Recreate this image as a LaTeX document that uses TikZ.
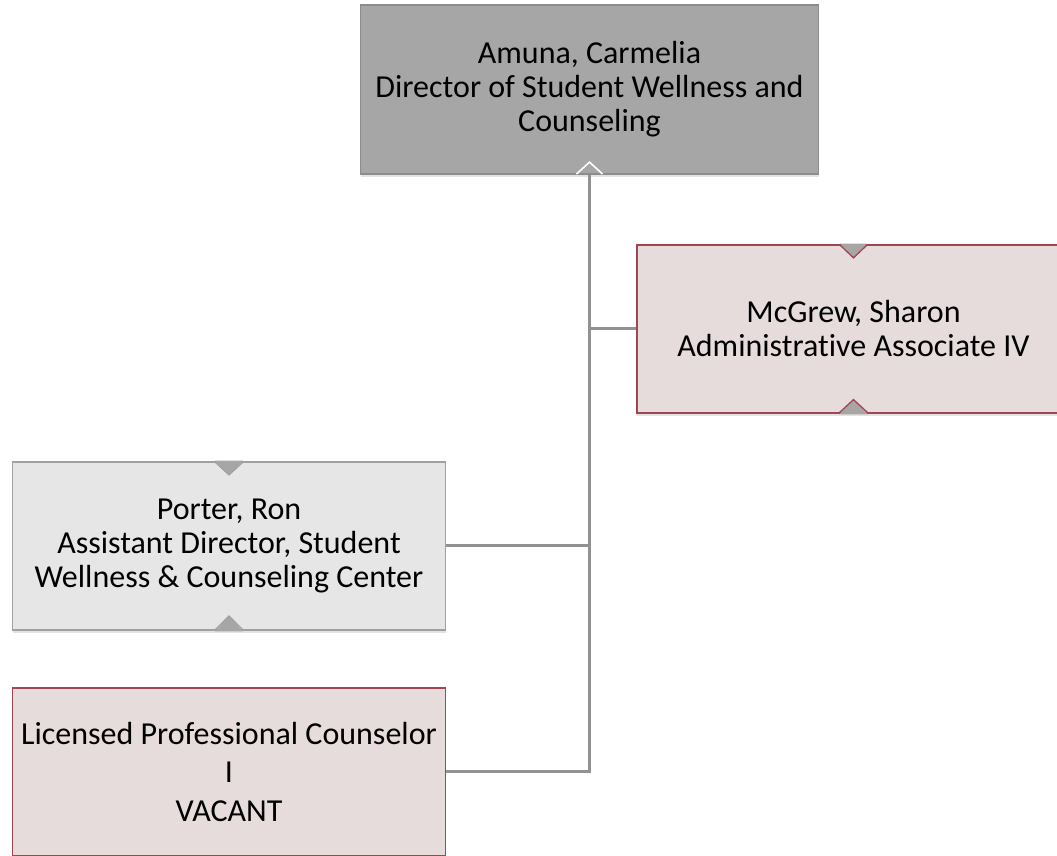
\documentclass[tikz,border=0pt]{standalone}
\usepackage{fontspec}
\setmainfont{Carlito}[Ligatures=NoCommon]
\usetikzlibrary{shadows}

\definecolor{headfill}{HTML}{A6A6A6}
\definecolor{headline}{HTML}{8C8C8C}
\definecolor{rosefill}{HTML}{E5DCDB}
\definecolor{roseline}{HTML}{A04552}
\definecolor{greyfill}{HTML}{E6E6E6}
\definecolor{greyline}{HTML}{A0A0A0}
\definecolor{linkgray}{HTML}{929292}

\begin{document}
\begin{tikzpicture}[
    x=1pt, y=1pt, line join=miter,
    box/.style={draw, line width=1.3pt, align=center, inner sep=0pt,
      minimum width=433pt, minimum height=168pt,
      font=\fontsize{32}{34}\selectfont,
      drop shadow={opacity=0.22, shadow xshift=0pt, shadow yshift=-3pt}},
    headbox/.style={box, fill=headfill, draw=headline, minimum width=458pt, minimum height=169pt},
    rosebox/.style={box, fill=rosefill, draw=roseline},
    greybox/.style={box, fill=greyfill, draw=greyline},
    conn/.style={draw=linkgray, line width=3pt},
    notch/.style={fill=headfill}]
  \useasboundingbox (0,0) rectangle (1057,856);
  \clip (0,0) rectangle (1057,856);
  % Kaesten
  \node[headbox] (amuna) at (589.5,766.5)
    {Amuna, Carmelia\\Director of Student Wellness and\\Counseling};
  \node[rosebox] (mcgrew) at (853.5,527)
    {McGrew, Sharon\\Administrative Associate IV};
  \node[greybox] (porter) at (229,310)
    {Porter, Ron\\Assistant Director, Student\\Wellness \& Counseling Center};
  \node[rosebox, font=\fontsize{32}{38.5}\selectfont] (vacant) at (229,84)
    {Licensed Professional Counselor\\I\\VACANT};
  % Kerben
  \draw[white, line width=1.6pt]
    ([xshift=-13pt, yshift=0.6pt]amuna.south) -- ([yshift=12.5pt]amuna.south)
    -- ([xshift=13pt, yshift=0.6pt]amuna.south);
  \fill[notch] ([xshift=-13.5pt, yshift=0.8pt]mcgrew.north) -- ([yshift=-13.5pt]mcgrew.north)
    -- ([xshift=13.5pt, yshift=0.8pt]mcgrew.north) -- cycle;
  \draw[roseline, line width=1.3pt] ([xshift=-13.5pt, yshift=-0.65pt]mcgrew.north)
    -- ([yshift=-13.5pt]mcgrew.north) -- ([xshift=13.5pt, yshift=-0.65pt]mcgrew.north);
  \fill[notch] ([xshift=-14.5pt, yshift=-0.8pt]mcgrew.south) -- ([yshift=14pt]mcgrew.south)
    -- ([xshift=14.5pt, yshift=-0.8pt]mcgrew.south) -- cycle;
  \draw[roseline, line width=1.3pt] ([xshift=-14.5pt, yshift=0.65pt]mcgrew.south)
    -- ([yshift=14pt]mcgrew.south) -- ([xshift=14.5pt, yshift=0.65pt]mcgrew.south);
  \fill[notch] ([xshift=-14pt, yshift=0.8pt]porter.north) -- ([yshift=-13.5pt]porter.north)
    -- ([xshift=14pt, yshift=0.8pt]porter.north) -- cycle;
  \draw[greyline, line width=1.3pt] ([xshift=-14pt, yshift=-0.65pt]porter.north)
    -- ([yshift=-13.5pt]porter.north) -- ([xshift=14pt, yshift=-0.65pt]porter.north);
  \fill[notch] ([xshift=-14pt, yshift=-0.8pt]porter.south) -- ([yshift=14.5pt]porter.south)
    -- ([xshift=14pt, yshift=-0.8pt]porter.south) -- cycle;
  \draw[greyline, line width=1.3pt] ([xshift=-14pt, yshift=0.65pt]porter.south)
    -- ([yshift=14.5pt]porter.south) -- ([xshift=14pt, yshift=0.65pt]porter.south);
  % Verbindungen
  \draw[conn] (amuna.south) -- (amuna.south |- vacant.east) -- (vacant.east);
  \draw[conn] (amuna.south |- mcgrew.west) -- (mcgrew.west);
  \draw[conn] (amuna.south |- porter.east) -- (porter.east);
\end{tikzpicture}
\end{document}
